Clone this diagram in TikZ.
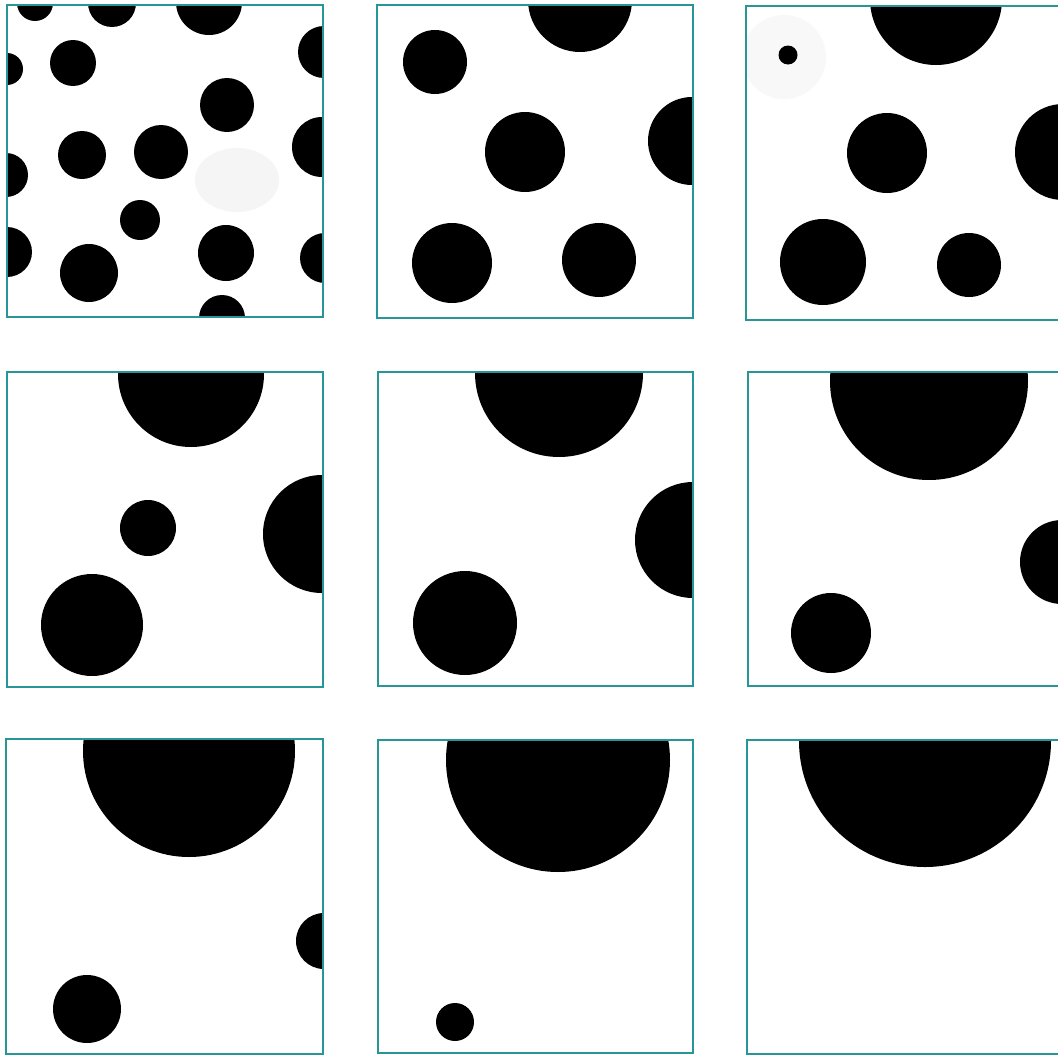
\documentclass[tikz,border=0pt]{standalone}
\definecolor{frameteal}{RGB}{38,150,150}
\definecolor{framepink}{RGB}{252,225,225}
\definecolor{faintgray}{RGB}{245,245,245}
\definecolor{fainter}{RGB}{248,248,248}
\tikzset{
  dot/.style={fill=black},
  faint/.style={fill=faintgray},
  faintest/.style={fill=fainter},
  framehalo/.style={draw=framepink, line width=2pt},
  frameline/.style={draw=frameteal, line width=1.1pt},
}
\newcommand{\panelframe}[4]{%
  \draw[framehalo] (#1,#2) rectangle (#3,#4);
  \draw[frameline] (#1,#2) rectangle (#3,#4);}
\begin{document}
\begin{tikzpicture}[x=1pt,y=-1pt]
\useasboundingbox (0,0) rectangle (1058,1055);
\clip (0,0) rectangle (1058,1055);
\fill[white] (0,0) rectangle (1058,1055);
% ---------- Panel 1 ----------
\begin{scope}
\clip (7,5) rectangle (323,317);
\fill[faint] (237,180) ellipse [x radius=42, y radius=32];
\fill[dot] (35,3) circle (18);
\fill[dot] (112,3) circle (24);
\fill[dot] (209,2) circle (33);
\fill[dot] (324,52) circle (26);
\fill[dot] (7,69) circle (16);
\fill[dot] (73,63) circle (23);
\fill[dot] (227,105) circle (27);
\fill[dot] (82,155) circle (24);
\fill[dot] (161,152) circle (27);
\fill[dot] (322,147) circle (30);
\fill[dot] (6,175) circle (22);
\fill[dot] (140,220) circle (20);
\fill[dot] (7,252) circle (25);
\fill[dot] (89,273) circle (29);
\fill[dot] (226,253) circle (28);
\fill[dot] (325,258) circle (25);
\fill[dot] (222,318) circle (23);
\end{scope}
\panelframe{7}{5}{323}{317}
% ---------- Panel 2 ----------
\begin{scope}
\clip (377,5) rectangle (693,318);
\fill[dot] (580,0) circle (52);
\fill[dot] (435,62) circle (32);
\fill[dot] (525,152) circle (40);
\fill[dot] (692,141) circle (44);
\fill[dot] (452,263) circle (40);
\fill[dot] (599,260) circle (37);
\end{scope}
\panelframe{377}{5}{693}{318}
% ---------- Panel 3 ----------
\begin{scope}
\clip (746,6) rectangle (1070,320);
\fill[faintest] (784,57) circle (42);
\fill[dot] (788,55) circle (9.5);
\fill[dot] (936,-1) circle (66);
\fill[dot] (887,153) circle (40);
\fill[dot] (1063,152) circle (48);
\fill[dot] (823,262) circle (43);
\fill[dot] (969,265) circle (32);
\end{scope}
\panelframe{746}{6}{1070}{320}
% ---------- Panel 4 ----------
\begin{scope}
\clip (7,372) rectangle (323,687);
\fill[dot] (191,374) circle (73);
\fill[dot] (148,528) circle (28);
\fill[dot] (322,534) circle (59);
\fill[dot] (92,625) circle (51);
\end{scope}
\panelframe{7}{372}{323}{687}
% ---------- Panel 5 ----------
\begin{scope}
\clip (378,372) rectangle (693,686);
\fill[dot] (559,373) circle (84);
\fill[dot] (693,540) circle (58);
\fill[dot] (465,623) circle (52);
\end{scope}
\panelframe{378}{372}{693}{686}
% ---------- Panel 6 ----------
\begin{scope}
\clip (748,372) rectangle (1070,686);
\fill[dot] (929,381) circle (99);
\fill[dot] (1062,562) circle (42);
\fill[dot] (831,633) circle (40);
\end{scope}
\panelframe{748}{372}{1070}{686}
% ---------- Panel 7 ----------
\begin{scope}
\clip (6,739) rectangle (323,1054);
\fill[dot] (189,751) circle (106);
\fill[dot] (324,941) circle (28);
\fill[dot] (87,1009) circle (34);
\end{scope}
\panelframe{6}{739}{323}{1054}
% ---------- Panel 8 ----------
\begin{scope}
\clip (378,740) rectangle (693,1053);
\fill[dot] (558,760) circle (112);
\fill[dot] (455,1022) circle (19);
\end{scope}
\panelframe{378}{740}{693}{1053}
% ---------- Panel 9 ----------
\begin{scope}
\clip (747,740) rectangle (1070,1054);
\fill[dot] (925,741) circle (126);
\end{scope}
\panelframe{747}{740}{1070}{1054}
\end{tikzpicture}
\end{document}
